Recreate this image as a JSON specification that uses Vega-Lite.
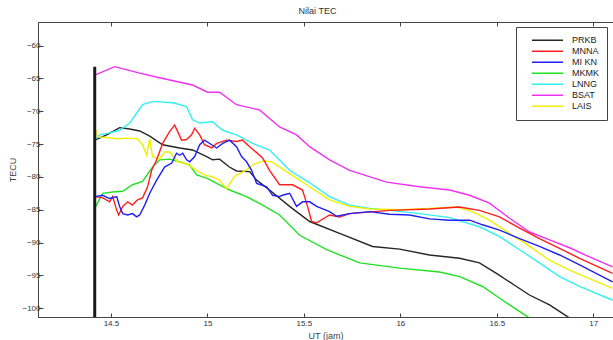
{
  "$schema": "https://vega.github.io/schema/vega-lite/v6.json",
  "autosize": "none",
  "width": 575,
  "height": 295,
  "padding": {"left": 38, "top": 22, "right": 0, "bottom": 23},
  "background": "white",
  "title": {"text": "Nilai TEC", "fontSize": 9, "fontWeight": "normal", "font": "Liberation Sans", "color": "#333", "offset": 6, "dx": -8},
  "config": {
    "view": {"stroke": "#444", "strokeWidth": 1},
    "font": "Liberation Sans",
    "axis": {"grid": false, "labelFontSize": 8, "labelColor": "#333", "domainColor": "#444", "tickColor": "#444", "titleFontSize": 9, "titleFontWeight": "normal", "titleColor": "#444", "labelFont": "Liberation Sans", "titleFont": "Liberation Sans", "labelOverlap": false}
  },
  "datasets": {
    "spike": [{"t": 14.416, "top": -63.2, "bottom": -103}],
    "tec": [
      {"s":"BSAT","t":14.416,"v":-64.5},{"s":"BSAT","t":14.519,"v":-63.2},{"s":"BSAT","t":14.649,"v":-64.2},{"s":"BSAT","t":14.752,"v":-64.9},{"s":"BSAT","t":14.923,"v":-66.0},{"s":"BSAT","t":15.001,"v":-67.1},{"s":"BSAT","t":15.063,"v":-67.1},{"s":"BSAT","t":15.151,"v":-69.0},{"s":"BSAT","t":15.27,"v":-69.8},{"s":"BSAT","t":15.374,"v":-72.4},{"s":"BSAT","t":15.462,"v":-73.6},{"s":"BSAT","t":15.53,"v":-75.4},{"s":"BSAT","t":15.633,"v":-77.4},{"s":"BSAT","t":15.737,"v":-79.0},{"s":"BSAT","t":15.929,"v":-80.8},{"s":"BSAT","t":16.1,"v":-81.5},{"s":"BSAT","t":16.255,"v":-82.0},{"s":"BSAT","t":16.359,"v":-82.8},{"s":"BSAT","t":16.462,"v":-84.0},{"s":"BSAT","t":16.566,"v":-86.3},{"s":"BSAT","t":16.67,"v":-88.4},{"s":"BSAT","t":16.773,"v":-89.6},{"s":"BSAT","t":16.877,"v":-90.8},{"s":"BSAT","t":16.98,"v":-92.2},{"s":"BSAT","t":17.1,"v":-93.7},

      {"s":"PRKB","t":14.416,"v":-74.4},{"s":"PRKB","t":14.478,"v":-73.6},{"s":"PRKB","t":14.545,"v":-72.5},{"s":"PRKB","t":14.597,"v":-72.7},{"s":"PRKB","t":14.649,"v":-73.0},{"s":"PRKB","t":14.701,"v":-73.8},{"s":"PRKB","t":14.768,"v":-75.1},{"s":"PRKB","t":14.856,"v":-75.6},{"s":"PRKB","t":14.923,"v":-75.9},{"s":"PRKB","t":14.996,"v":-76.9},{"s":"PRKB","t":15.027,"v":-77.4},{"s":"PRKB","t":15.063,"v":-77.3},{"s":"PRKB","t":15.114,"v":-78.5},{"s":"PRKB","t":15.151,"v":-79.1},{"s":"PRKB","t":15.219,"v":-79.2},{"s":"PRKB","t":15.255,"v":-80.5},{"s":"PRKB","t":15.322,"v":-82.0},{"s":"PRKB","t":15.426,"v":-84.5},{"s":"PRKB","t":15.53,"v":-86.8},{"s":"PRKB","t":15.685,"v":-88.6},{"s":"PRKB","t":15.856,"v":-90.6},{"s":"PRKB","t":15.996,"v":-91.0},{"s":"PRKB","t":16.151,"v":-91.9},{"s":"PRKB","t":16.307,"v":-92.4},{"s":"PRKB","t":16.41,"v":-93.1},{"s":"PRKB","t":16.498,"v":-94.7},{"s":"PRKB","t":16.602,"v":-96.7},{"s":"PRKB","t":16.669,"v":-98.0},{"s":"PRKB","t":16.773,"v":-99.5},{"s":"PRKB","t":16.866,"v":-101.3},{"s":"PRKB","t":16.98,"v":-103.3},

      {"s":"MKMK","t":14.416,"v":-84.8},{"s":"MKMK","t":14.457,"v":-82.5},{"s":"MKMK","t":14.509,"v":-82.3},{"s":"MKMK","t":14.561,"v":-82.2},{"s":"MKMK","t":14.612,"v":-81.2},{"s":"MKMK","t":14.664,"v":-80.7},{"s":"MKMK","t":14.716,"v":-78.5},{"s":"MKMK","t":14.752,"v":-77.4},{"s":"MKMK","t":14.804,"v":-77.3},{"s":"MKMK","t":14.856,"v":-77.7},{"s":"MKMK","t":14.908,"v":-78.2},{"s":"MKMK","t":14.944,"v":-79.7},{"s":"MKMK","t":14.996,"v":-80.2},{"s":"MKMK","t":15.063,"v":-81.2},{"s":"MKMK","t":15.115,"v":-82.0},{"s":"MKMK","t":15.203,"v":-83.0},{"s":"MKMK","t":15.286,"v":-84.3},{"s":"MKMK","t":15.374,"v":-85.8},{"s":"MKMK","t":15.478,"v":-88.9},{"s":"MKMK","t":15.618,"v":-91.1},{"s":"MKMK","t":15.789,"v":-93.1},{"s":"MKMK","t":15.996,"v":-93.9},{"s":"MKMK","t":16.203,"v":-94.5},{"s":"MKMK","t":16.307,"v":-95.2},{"s":"MKMK","t":16.426,"v":-96.7},{"s":"MKMK","t":16.53,"v":-98.8},{"s":"MKMK","t":16.659,"v":-101.3},{"s":"MKMK","t":16.747,"v":-103.3},

      {"s":"LNNG","t":14.416,"v":-74.4},{"s":"LNNG","t":14.441,"v":-73.6},{"s":"LNNG","t":14.493,"v":-73.3},{"s":"LNNG","t":14.545,"v":-72.9},{"s":"LNNG","t":14.597,"v":-71.8},{"s":"LNNG","t":14.633,"v":-70.3},{"s":"LNNG","t":14.664,"v":-69.0},{"s":"LNNG","t":14.716,"v":-68.5},{"s":"LNNG","t":14.82,"v":-68.7},{"s":"LNNG","t":14.892,"v":-69.3},{"s":"LNNG","t":14.923,"v":-71.3},{"s":"LNNG","t":14.96,"v":-71.8},{"s":"LNNG","t":15.027,"v":-71.6},{"s":"LNNG","t":15.079,"v":-72.9},{"s":"LNNG","t":15.151,"v":-73.6},{"s":"LNNG","t":15.234,"v":-74.9},{"s":"LNNG","t":15.322,"v":-75.9},{"s":"LNNG","t":15.426,"v":-79.0},{"s":"LNNG","t":15.53,"v":-80.9},{"s":"LNNG","t":15.633,"v":-83.0},{"s":"LNNG","t":15.737,"v":-84.3},{"s":"LNNG","t":15.841,"v":-84.8},{"s":"LNNG","t":15.944,"v":-85.1},{"s":"LNNG","t":16.1,"v":-85.6},{"s":"LNNG","t":16.255,"v":-86.2},{"s":"LNNG","t":16.41,"v":-87.6},{"s":"LNNG","t":16.514,"v":-89.1},{"s":"LNNG","t":16.618,"v":-91.1},{"s":"LNNG","t":16.721,"v":-93.1},{"s":"LNNG","t":16.825,"v":-95.2},{"s":"LNNG","t":16.929,"v":-96.7},{"s":"LNNG","t":17.1,"v":-98.8},

      {"s":"LAIS","t":14.416,"v":-72.4},{"s":"LAIS","t":14.431,"v":-73.9},{"s":"LAIS","t":14.478,"v":-74.0},{"s":"LAIS","t":14.53,"v":-74.2},{"s":"LAIS","t":14.581,"v":-74.1},{"s":"LAIS","t":14.638,"v":-74.2},{"s":"LAIS","t":14.664,"v":-75.1},{"s":"LAIS","t":14.685,"v":-76.7},{"s":"LAIS","t":14.701,"v":-74.2},{"s":"LAIS","t":14.716,"v":-76.9},{"s":"LAIS","t":14.752,"v":-77.3},{"s":"LAIS","t":14.778,"v":-76.2},{"s":"LAIS","t":14.804,"v":-76.2},{"s":"LAIS","t":14.846,"v":-77.7},{"s":"LAIS","t":14.892,"v":-78.0},{"s":"LAIS","t":14.944,"v":-79.0},{"s":"LAIS","t":14.985,"v":-79.7},{"s":"LAIS","t":15.027,"v":-80.0},{"s":"LAIS","t":15.063,"v":-80.5},{"s":"LAIS","t":15.099,"v":-81.8},{"s":"LAIS","t":15.141,"v":-79.9},{"s":"LAIS","t":15.193,"v":-79.1},{"s":"LAIS","t":15.245,"v":-78.0},{"s":"LAIS","t":15.286,"v":-77.6},{"s":"LAIS","t":15.333,"v":-77.7},{"s":"LAIS","t":15.426,"v":-79.5},{"s":"LAIS","t":15.53,"v":-81.5},{"s":"LAIS","t":15.633,"v":-83.5},{"s":"LAIS","t":15.737,"v":-84.5},{"s":"LAIS","t":15.841,"v":-84.9},{"s":"LAIS","t":15.996,"v":-85.0},{"s":"LAIS","t":16.151,"v":-84.8},{"s":"LAIS","t":16.291,"v":-84.6},{"s":"LAIS","t":16.359,"v":-85.1},{"s":"LAIS","t":16.462,"v":-86.6},{"s":"LAIS","t":16.566,"v":-88.6},{"s":"LAIS","t":16.67,"v":-90.6},{"s":"LAIS","t":16.773,"v":-92.7},{"s":"LAIS","t":16.877,"v":-94.2},{"s":"LAIS","t":16.98,"v":-95.5},{"s":"LAIS","t":17.1,"v":-97.0},

      {"s":"MNNA","t":14.416,"v":-83.0},{"s":"MNNA","t":14.457,"v":-83.2},{"s":"MNNA","t":14.493,"v":-83.8},{"s":"MNNA","t":14.509,"v":-83.0},{"s":"MNNA","t":14.53,"v":-85.1},{"s":"MNNA","t":14.54,"v":-85.8},{"s":"MNNA","t":14.561,"v":-84.5},{"s":"MNNA","t":14.587,"v":-83.8},{"s":"MNNA","t":14.612,"v":-84.3},{"s":"MNNA","t":14.638,"v":-83.5},{"s":"MNNA","t":14.664,"v":-83.2},{"s":"MNNA","t":14.69,"v":-81.5},{"s":"MNNA","t":14.711,"v":-79.0},{"s":"MNNA","t":14.737,"v":-77.4},{"s":"MNNA","t":14.768,"v":-74.9},{"s":"MNNA","t":14.804,"v":-73.1},{"s":"MNNA","t":14.83,"v":-72.1},{"s":"MNNA","t":14.846,"v":-73.1},{"s":"MNNA","t":14.866,"v":-74.4},{"s":"MNNA","t":14.892,"v":-74.3},{"s":"MNNA","t":14.918,"v":-73.6},{"s":"MNNA","t":14.934,"v":-72.6},{"s":"MNNA","t":14.96,"v":-73.6},{"s":"MNNA","t":14.985,"v":-75.1},{"s":"MNNA","t":15.022,"v":-75.6},{"s":"MNNA","t":15.048,"v":-74.9},{"s":"MNNA","t":15.099,"v":-74.4},{"s":"MNNA","t":15.151,"v":-74.6},{"s":"MNNA","t":15.182,"v":-74.4},{"s":"MNNA","t":15.219,"v":-75.4},{"s":"MNNA","t":15.255,"v":-76.3},{"s":"MNNA","t":15.286,"v":-77.1},{"s":"MNNA","t":15.322,"v":-79.0},{"s":"MNNA","t":15.374,"v":-81.2},{"s":"MNNA","t":15.441,"v":-81.2},{"s":"MNNA","t":15.493,"v":-82.0},{"s":"MNNA","t":15.519,"v":-84.5},{"s":"MNNA","t":15.54,"v":-86.8},{"s":"MNNA","t":15.566,"v":-87.0},{"s":"MNNA","t":15.633,"v":-85.8},{"s":"MNNA","t":15.685,"v":-86.1},{"s":"MNNA","t":15.737,"v":-85.6},{"s":"MNNA","t":15.944,"v":-85.1},{"s":"MNNA","t":16.151,"v":-84.9},{"s":"MNNA","t":16.307,"v":-84.6},{"s":"MNNA","t":16.41,"v":-85.1},{"s":"MNNA","t":16.514,"v":-86.1},{"s":"MNNA","t":16.618,"v":-87.8},{"s":"MNNA","t":16.721,"v":-89.4},{"s":"MNNA","t":16.825,"v":-90.9},{"s":"MNNA","t":16.929,"v":-92.4},{"s":"MNNA","t":17.1,"v":-94.7},

      {"s":"MI KN","t":14.416,"v":-83.0},{"s":"MI KN","t":14.457,"v":-82.8},{"s":"MI KN","t":14.493,"v":-83.3},{"s":"MI KN","t":14.53,"v":-83.0},{"s":"MI KN","t":14.545,"v":-84.5},{"s":"MI KN","t":14.561,"v":-85.6},{"s":"MI KN","t":14.587,"v":-85.8},{"s":"MI KN","t":14.612,"v":-85.6},{"s":"MI KN","t":14.633,"v":-86.1},{"s":"MI KN","t":14.649,"v":-85.8},{"s":"MI KN","t":14.675,"v":-84.3},{"s":"MI KN","t":14.701,"v":-82.5},{"s":"MI KN","t":14.737,"v":-80.5},{"s":"MI KN","t":14.778,"v":-78.5},{"s":"MI KN","t":14.815,"v":-77.9},{"s":"MI KN","t":14.84,"v":-76.4},{"s":"MI KN","t":14.856,"v":-76.7},{"s":"MI KN","t":14.872,"v":-76.4},{"s":"MI KN","t":14.892,"v":-77.4},{"s":"MI KN","t":14.908,"v":-77.7},{"s":"MI KN","t":14.934,"v":-76.9},{"s":"MI KN","t":14.96,"v":-75.1},{"s":"MI KN","t":14.985,"v":-74.4},{"s":"MI KN","t":15.022,"v":-75.1},{"s":"MI KN","t":15.048,"v":-75.6},{"s":"MI KN","t":15.079,"v":-74.9},{"s":"MI KN","t":15.115,"v":-74.4},{"s":"MI KN","t":15.151,"v":-75.4},{"s":"MI KN","t":15.177,"v":-76.9},{"s":"MI KN","t":15.203,"v":-77.7},{"s":"MI KN","t":15.229,"v":-79.0},{"s":"MI KN","t":15.255,"v":-81.0},{"s":"MI KN","t":15.307,"v":-81.5},{"s":"MI KN","t":15.338,"v":-82.8},{"s":"MI KN","t":15.374,"v":-83.0},{"s":"MI KN","t":15.389,"v":-82.8},{"s":"MI KN","t":15.426,"v":-82.5},{"s":"MI KN","t":15.462,"v":-84.5},{"s":"MI KN","t":15.493,"v":-83.8},{"s":"MI KN","t":15.53,"v":-83.8},{"s":"MI KN","t":15.566,"v":-84.5},{"s":"MI KN","t":15.633,"v":-85.3},{"s":"MI KN","t":15.67,"v":-86.0},{"s":"MI KN","t":15.737,"v":-85.6},{"s":"MI KN","t":15.841,"v":-85.3},{"s":"MI KN","t":15.944,"v":-85.7},{"s":"MI KN","t":16.048,"v":-85.8},{"s":"MI KN","t":16.151,"v":-86.4},{"s":"MI KN","t":16.255,"v":-86.6},{"s":"MI KN","t":16.359,"v":-86.6},{"s":"MI KN","t":16.426,"v":-87.3},{"s":"MI KN","t":16.514,"v":-88.1},{"s":"MI KN","t":16.618,"v":-89.4},{"s":"MI KN","t":16.721,"v":-90.6},{"s":"MI KN","t":16.825,"v":-91.9},{"s":"MI KN","t":16.929,"v":-93.4},{"s":"MI KN","t":17.1,"v":-96.0}
    ]
  },
  "layer": [
    {
      "data": {"name": "tec"},
      "mark": {"type": "line", "strokeWidth": 1.4, "clip": true},
      "encoding": {
        "x": {"field": "t", "type": "quantitative", "scale": {"domain": [14.122, 17.102], "nice": false, "zero": false},
              "axis": {"orient": "bottom", "values": [14.5, 15, 15.5, 16, 16.5, 17], "format": "~g", "labelOverlap": false, "tickSize": -4, "labelPadding": 6, "title": "UT (jam)", "titlePadding": 4}},
        "y": {"field": "v", "type": "quantitative", "scale": {"domain": [-101.35, -56.4], "nice": false, "zero": false},
              "axis": {"values": [-60, -65, -70, -75, -80, -85, -90, -95, -100], "format": "d", "labelOverlap": false, "tickSize": -5, "labelPadding": 3, "title": "TECU", "titleX": -21, "titleY": 147.5, "titleAngle": -90, "titleAlign": "center", "titleBaseline": "bottom"}},
        "color": {"field": "s", "type": "nominal",
                  "scale": {"domain": ["PRKB", "MNNA", "MI KN", "MKMK", "LNNG", "BSAT", "LAIS"],
                            "range": ["#262626", "#ff1f1f", "#2020f0", "#22e022", "#33f0f0", "#f030f0", "#f0f000"]},
                  "legend": {"orient": "none", "legendX": 478, "legendY": 5, "title": null,
                             "symbolType": "stroke", "symbolSize": 961, "symbolStrokeWidth": 1.5, "clipHeight": 10.6, "rowPadding": -0.7,
                             "labelFontSize": 9, "labelColor": "#222", "labelOffset": 8, "symbolOffset": 7, "padding": 8,
                             "strokeColor": "#444", "fillColor": "white", "labelExpr": "datum.label + '            '"}}
      }
    },
    {
      "data": {"name": "spike"},
      "mark": {"type": "rule", "strokeWidth": 3, "color": "#1a1a1a", "clip": true},
      "encoding": {
        "x": {"field": "t", "type": "quantitative", "axis": null},
        "y": {"field": "top", "type": "quantitative",
              "axis": {"values": [-60, -65, -70, -75, -80, -85, -90, -95, -100], "format": "d", "labelOverlap": false, "tickSize": -5, "labelPadding": 3, "title": "TECU", "titleX": -21, "titleY": 147.5, "titleAngle": -90, "titleAlign": "center", "titleBaseline": "bottom"}},
        "y2": {"field": "bottom"}
      }
    },
    {
      "data": {"name": "spike"},
      "mark": {"type": "rule", "strokeWidth": 0, "opacity": 0},
      "encoding": {
        "x": {"field": "t", "type": "quantitative", "axis": {"orient": "top", "values": [14.5, 15, 15.5, 16, 16.5, 17], "labels": false, "tickSize": -4, "title": null, "domain": false}}
      }
    }
  ],
  "resolve": {"axis": {"x": "independent"}}
}
